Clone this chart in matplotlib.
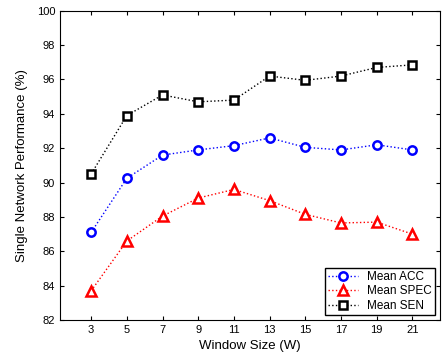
import numpy as np
import matplotlib
matplotlib.use('Agg')
import matplotlib.pyplot as plt

plt.rcParams['font.family'] = ['Liberation Sans', 'DejaVu Sans']

window = [3, 5, 7, 9, 11, 13, 15, 17, 19, 21]
mean_acc = [87.1, 90.25, 91.6, 91.9, 92.15, 92.6, 92.05, 91.9, 92.2, 91.9]
mean_spec = [83.7, 86.6, 88.05, 89.1, 89.6, 88.95, 88.15, 87.65, 87.7, 87.0]
mean_sen = [90.5, 93.9, 95.1, 94.7, 94.8, 96.2, 95.95, 96.2, 96.7, 96.85]
yticks = [82, 84, 86, 88, 90, 92, 94, 96, 98, 100]

fig = plt.figure(figsize=(4.45, 3.58), dpi=100)
ax = fig.add_axes([0.135, 0.106, 0.854, 0.864])

ax.plot(window, mean_acc, ':', color='blue', lw=1, marker='o', ms=6,
        mfc='white', mec='blue', mew=1.8, label='Mean ACC')
ax.plot(window, mean_spec, ':', color='red', lw=1, marker='^', ms=7.5,
        mfc='white', mec='red', mew=1.8, label='Mean SPEC')
ax.plot(window, mean_sen, ':', color='black', lw=1, marker='s', ms=5.5,
        mfc='white', mec='black', mew=1.8, label='Mean SEN')

ax.set_xlim(1.26, 22.55)
ax.set_ylim(82, 100)
ax.set_xticks(window)
ax.set_yticks(yticks)
ax.tick_params(direction='in', top=True, right=True, labelsize=8, length=3)
ax.set_xlabel('Window Size (W)', fontsize=9.5)
ax.set_ylabel('Single Network Performance (%)', fontsize=9.5, labelpad=6)

leg = ax.legend(loc='lower right', fontsize=8.5, fancybox=False, framealpha=1,
                edgecolor='black', borderpad=0.3, labelspacing=0.2,
                handlelength=2.5, borderaxespad=0.4)
leg.get_frame().set_linewidth(1)

plt.savefig('out.png', dpi=100, facecolor='w')
plt.close()
